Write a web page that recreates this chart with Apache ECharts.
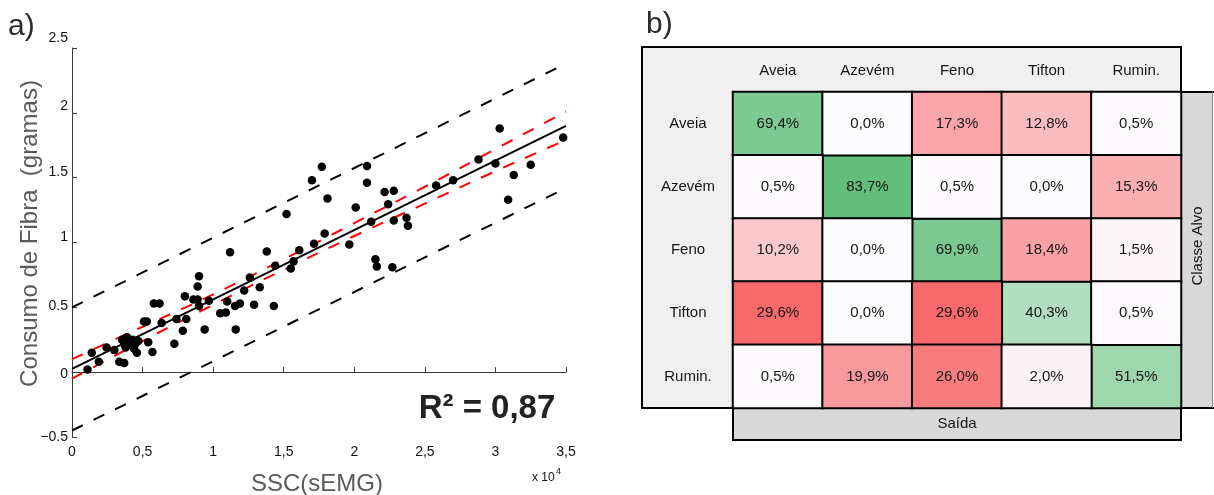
<!DOCTYPE html>
<html>
<head>
<meta charset="utf-8">
<script src="https://cdn.jsdelivr.net/npm/echarts@6/dist/echarts.min.js"></script>
<style>
  html, body { margin: 0; padding: 0; background: #fff; }
  #chart { width: 1214px; height: 495px; }
</style>
</head>
<body>
<div id="chart"></div>
<script>
// ---- Panel a): fibre intake against SSC(sEMG) ----
// SSC values in units of 10^4
const sscValues = [0.11, 0.14, 0.19, 0.245, 0.30, 0.335, 0.37, 0.355, 0.37, 0.38, 0.40, 0.41, 0.43, 0.44, 0.45, 0.47, 0.46, 0.39,
  0.51, 0.53, 0.54, 0.57, 0.58, 0.62, 0.635, 0.725, 0.74, 0.785, 0.81, 0.80, 0.86, 0.89, 0.90, 0.90, 0.89, 0.94, 0.97,
  1.05, 1.09, 1.10, 1.12, 1.155, 1.19, 1.16, 1.22, 1.26, 1.29, 1.33, 1.38, 1.43, 1.44, 1.52, 1.55, 1.57, 1.61,
  1.70, 1.715, 1.77, 1.79, 1.81, 1.965, 2.01, 2.09, 2.09, 2.12, 2.15, 2.16, 2.215, 2.24, 2.27, 2.28, 2.28, 2.37, 2.38,
  2.58, 2.70, 2.88, 3.00, 3.03, 3.09, 3.13, 3.25, 3.48];
// fibre consumed, grams
const fibreValues = [0.02, 0.15, 0.08, 0.19, 0.17, 0.08, 0.07, 0.25, 0.22, 0.19, 0.25, 0.21, 0.25, 0.18, 0.22, 0.24, 0.15, 0.27,
  0.39, 0.39, 0.23, 0.155, 0.53, 0.53, 0.38, 0.22, 0.41, 0.32, 0.41, 0.585, 0.56, 0.56, 0.51, 0.74, 0.66, 0.33, 0.55,
  0.455, 0.46, 0.545, 0.925, 0.51, 0.53, 0.33, 0.63, 0.73, 0.52, 0.655, 0.93, 0.51, 0.82, 1.22, 0.80, 0.855, 0.94,
  1.48, 0.99, 1.585, 1.07, 1.34, 0.985, 1.27, 1.59, 1.46, 1.16, 0.87, 0.815, 1.39, 1.295, 0.81, 1.40, 1.17, 1.19, 1.13,
  1.44, 1.48, 1.64, 1.61, 1.88, 1.33, 1.52, 1.60, 1.81];

// least-squares fit and its 95% prediction band (end points)
const fitX = [0, 3.5];
const fitY = [0.025, 1.90];
const predUpperY = [0.50, 2.38];
const predLowerY = [-0.45, 1.42];
// 95% confidence band of the fit
const bandX = [0, 0.5, 1, 1.5, 2, 2.5, 3, 3.5];
const confUpperY = [0.10, 0.35, 0.60, 0.87, 1.15, 1.43, 1.72, 2.01];
const confLowerY = [-0.05, 0.24, 0.52, 0.79, 1.05, 1.30, 1.55, 1.79];

const xTickLabels = ['0', '0,5', '1', '1,5', '2', '2,5', '3', '3,5'];
const yTickLabels = ['\u22120.5', '0', '0.5', '1', '1.5', '2', '2.5'];
const rSquaredText = 'R\u00B2 = 0,87';

// ---- Panel b): confusion matrix (rows: target class, columns: output) ----
const classes = ['Aveia', 'Azevém', 'Feno', 'Tifton', 'Rumin.'];
const rowAveia  = [69.4, 0.0, 17.3, 12.8, 0.5];
const rowAzevem = [0.5, 83.7, 0.5, 0.0, 15.3];
const rowFeno   = [10.2, 0.0, 69.9, 18.4, 1.5];
const rowTifton = [29.6, 0.0, 29.6, 40.3, 0.5];
const rowRumin  = [0.5, 19.9, 26.0, 2.0, 51.5];

const FONT = '"Liberation Sans", Arial, Helvetica, sans-serif';

const pair = (xs, ys) => xs.map((x, i) => [x, ys[i]]);
const matrixRows = [rowAveia, rowAzevem, rowFeno, rowTifton, rowRumin];
const diagCells = [];
const offCells = [];
matrixRows.forEach((row, r) => row.forEach((v, c) => (r === c ? diagCells : offCells).push([c, r, v])));
const diagMax = Math.max(...diagCells.map(d => d[2]));
const offMax = Math.max(...offCells.map(d => d[2]));

// small vertical nudges of the y tick labels, bottom to top
const yLabelNudge = [0, 2, -1, -5, -6, -7, -10];
const yRich = {};
yLabelNudge.forEach((n, i) => {
  yRich['t' + i] = { fontSize: 14, color: '#111', fontFamily: FONT,
    padding: n < 0 ? [0, 0, -2 * n, 0] : [2 * n, 0, 0, 0] };
});

const axisGrey = '#3a3a3a';
const dashed = [12, 12];

const cellLabel = {
  show: true, fontSize: 15, color: '#151515', fontFamily: FONT,
  formatter: p => p.value[2].toFixed(1).replace('.', ',') + '%'
};

const option = {
  backgroundColor: '#ffffff',
  animation: false,
  textStyle: { fontFamily: FONT },
  grid: [
    { left: 72, top: 48, width: 494, height: 389 },
    { left: 733, top: 92, width: 448, height: 316 }
  ],
  xAxis: [
    {
      gridIndex: 0, type: 'value', min: 0, max: 3.5, interval: 0.5,
      axisLine: { lineStyle: { color: axisGrey, width: 1 } },
      axisTick: { inside: true, length: 5, lineStyle: { color: axisGrey } },
      axisLabel: { margin: 8, fontSize: 14, color: '#111',
        formatter: v => xTickLabels[Math.round(v / 0.5)] },
      splitLine: { show: false }
    },
    {
      gridIndex: 1, type: 'category', data: classes, position: 'top',
      axisLine: { show: false }, axisTick: { show: false }, splitLine: { show: false },
      axisLabel: { margin: 21, fontSize: 15, color: '#151515', verticalAlign: 'middle' }
    }
  ],
  yAxis: [
    {
      gridIndex: 0, type: 'value', min: -0.5, max: 2.5, interval: 0.5,
      axisLine: { show: true, lineStyle: { color: axisGrey, width: 1 } },
      axisTick: { show: true, inside: true, length: 5, lineStyle: { color: axisGrey } },
      axisLabel: { margin: 4, rich: yRich,
        formatter: v => { const i = Math.round((v + 0.5) / 0.5); return '{t' + i + '|' + yTickLabels[i] + '}'; } },
      splitLine: { show: false }
    },
    {
      gridIndex: 1, type: 'category', data: classes, inverse: true,
      axisLine: { show: false }, axisTick: { show: false }, splitLine: { show: false },
      axisLabel: { margin: 45, fontSize: 15, color: '#151515', align: 'center' }
    }
  ],
  visualMap: [
    { type: 'continuous', show: false, seriesIndex: 5, dimension: 2, min: 0, max: diagMax,
      inRange: { color: ['#FCFCFF', '#63BE7B'] } },
    { type: 'continuous', show: false, seriesIndex: 6, dimension: 2, min: 0, max: offMax,
      inRange: { color: ['#FCFCFF', '#F8696B'] } }
  ],
  series: [
    { type: 'line', xAxisIndex: 0, yAxisIndex: 0, data: pair(fitX, predUpperY), symbol: 'none', silent: true,
      lineStyle: { color: '#000', width: 2, type: dashed }, z: 2 },
    { type: 'line', xAxisIndex: 0, yAxisIndex: 0, data: pair(fitX, predLowerY), symbol: 'none', silent: true,
      lineStyle: { color: '#000', width: 2, type: dashed }, z: 2 },
    { type: 'line', xAxisIndex: 0, yAxisIndex: 0, data: pair(bandX, confUpperY), symbol: 'none', smooth: true, silent: true,
      lineStyle: { color: '#ff0000', width: 2, type: dashed }, z: 3 },
    { type: 'line', xAxisIndex: 0, yAxisIndex: 0, data: pair(bandX, confLowerY), symbol: 'none', smooth: true, silent: true,
      lineStyle: { color: '#ff0000', width: 2, type: dashed }, z: 3 },
    { type: 'line', xAxisIndex: 0, yAxisIndex: 0, data: pair(fitX, fitY), symbol: 'none', silent: true,
      lineStyle: { color: '#000', width: 2 }, z: 4 },
    { type: 'heatmap', xAxisIndex: 1, yAxisIndex: 1, data: diagCells, label: cellLabel,
      itemStyle: { borderColor: '#000', borderWidth: 2 }, emphasis: { disabled: true }, z: 5 },
    { type: 'heatmap', xAxisIndex: 1, yAxisIndex: 1, data: offCells, label: cellLabel,
      itemStyle: { borderColor: '#000', borderWidth: 2 }, emphasis: { disabled: true }, z: 5 },
    { type: 'scatter', xAxisIndex: 0, yAxisIndex: 0, data: pair(sscValues, fibreValues), symbol: 'circle',
      symbolSize: 8.5, itemStyle: { color: '#000', opacity: 1 }, silent: true, z: 6 }
  ],
  graphic: [
    // matrix frame: header row / row-label column background
    { type: 'rect', z: -1, shape: { x: 642, y: 47, width: 539, height: 361 },
      style: { fill: '#f0f0f0', stroke: '#000', lineWidth: 2 } },
    // target-class side box
    { type: 'rect', z: -1, shape: { x: 1181, y: 92, width: 32, height: 316 },
      style: { fill: '#d9d9d9', stroke: null } },
    { type: 'line', z: 1, shape: { x1: 1181, y1: 92, x2: 1214, y2: 92 }, style: { stroke: '#000', lineWidth: 2 } },
    { type: 'line', z: 1, shape: { x1: 1181, y1: 408, x2: 1214, y2: 408 }, style: { stroke: '#000', lineWidth: 2 } },
    { type: 'line', z: 1, shape: { x1: 1212.5, y1: 92, x2: 1212.5, y2: 408 }, style: { stroke: '#8a8a8a', lineWidth: 1 } },
    { type: 'text', x: 1198, y: 246, rotation: Math.PI / 2,
      style: { text: 'Classe Alvo', fontSize: 15, fontFamily: FONT, fill: '#151515', align: 'center', verticalAlign: 'middle' } },
    // output box
    { type: 'rect', z: -1, shape: { x: 733, y: 408, width: 448, height: 32 },
      style: { fill: '#d9d9d9', stroke: '#000', lineWidth: 2 } },
    { type: 'text', x: 957, y: 424,
      style: { text: 'Saída', fontSize: 15, fontFamily: FONT, fill: '#151515', align: 'center', verticalAlign: 'middle' } },
    // panel letters
    { type: 'text', x: 8, y: 27,
      style: { text: 'a)', fontSize: 30, fontFamily: FONT, fill: '#2b2b2b', align: 'left', verticalAlign: 'middle' } },
    { type: 'text', x: 646, y: 25,
      style: { text: 'b)', fontSize: 30, fontFamily: FONT, fill: '#2b2b2b', align: 'left', verticalAlign: 'middle' } },
    // axis titles
    { type: 'text', x: 30, y: 233.5, rotation: Math.PI / 2,
      style: { text: 'Consumo de Fibra  (gramas)', fontSize: 24, fontFamily: FONT, fill: '#5a5a5a', align: 'center', verticalAlign: 'middle' } },
    { type: 'text', x: 317, y: 484,
      style: { text: 'SSC(sEMG)', fontSize: 24, fontFamily: FONT, fill: '#5a5a5a', align: 'center', verticalAlign: 'middle' } },
    // axis exponent
    { type: 'text', x: 532, y: 477.5,
      style: { text: 'x 10', fontSize: 12, fontFamily: FONT, fill: '#111', align: 'left', verticalAlign: 'middle' } },
    { type: 'text', x: 556, y: 472,
      style: { text: '4', fontSize: 9, fontFamily: FONT, fill: '#111', align: 'left', verticalAlign: 'middle' } },
    // goodness of fit
    { type: 'text', x: 487, y: 409,
      style: { text: rSquaredText, fontSize: 33, fontWeight: 'bold', fontFamily: FONT, fill: '#222', align: 'center', verticalAlign: 'middle' } }
  ]
};

const chart = echarts.init(document.getElementById('chart'), null, { renderer: 'canvas' });
chart.setOption(option);
</script>
</body>
</html>
